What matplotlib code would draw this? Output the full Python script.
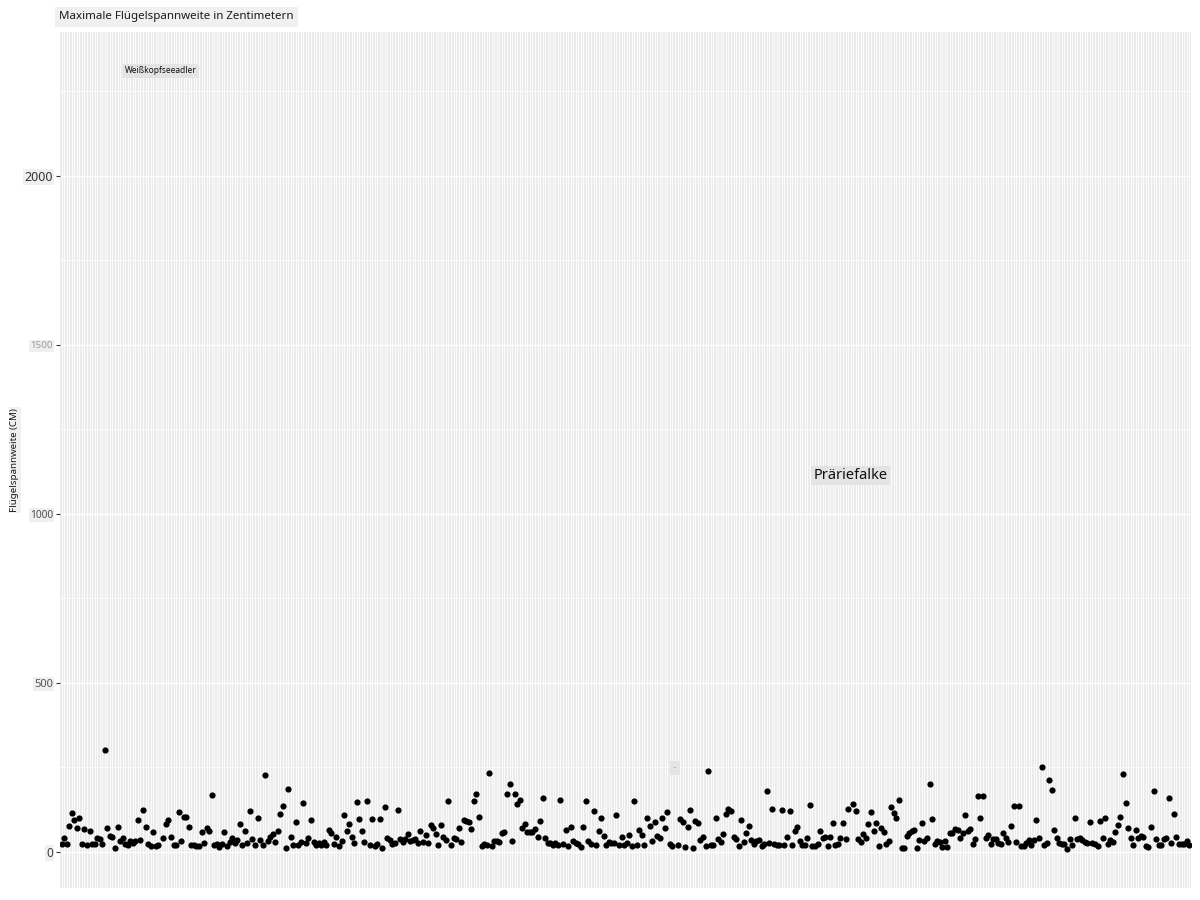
import matplotlib
matplotlib.use('Agg')
import matplotlib.pyplot as plt
import numpy as np

# Maximum wingspan per bird (cm), in x-axis order
wingspan = [
    22, 41, 22, 76, 115, 94, 70, 99, 22, 68, 19, 62, 22, 22, 41, 38, 22, 301, 70, 47,
    44, 12, 73, 31, 40, 22, 20, 32, 27, 32, 94, 35, 123, 73, 22, 17, 58, 17, 20, 2310,
    40, 83, 94, 44, 20, 20, 118, 32, 103, 103, 73, 20, 19, 18, 18, 58, 26, 70, 62, 168,
    20, 22, 14, 22, 58, 18, 30, 41, 26, 34, 83, 20, 61, 26,
    120, 38, 20, 99, 35, 20, 226, 31, 44, 52, 29, 61, 111, 135, 12, 185, 43, 20, 88, 20,
    29, 144, 26, 40, 93, 29, 20, 26, 20, 29, 20, 64, 55, 23, 43, 17, 31, 108, 61, 82,
    43, 26, 147, 96, 61, 29, 150, 20, 96, 17, 23, 96, 11, 132, 40, 34, 23, 26, 123, 37,
    29, 38, 52, 31, 34, 37, 26, 61, 29, 49, 26, 79, 70, 52,
    20, 79, 43, 34, 150, 20, 40, 37, 70, 29, 94, 91, 88, 67, 150, 170, 102, 17, 23, 20,
    232, 17, 31, 31, 29, 55, 58, 170, 200, 31, 170, 141, 153, 70, 82, 58, 58, 58, 67, 43,
    91, 158, 40, 26, 26, 20, 26, 20, 153, 23, 64, 17, 73, 31, 26, 23, 14, 73, 150, 31,
    23, 120, 20, 61, 99, 46, 20, 29, 26, 26, 108, 20, 43, 20,
    26, 49, 17, 150, 20, 64, 49, 20, 99, 76, 31, 88, 46, 40, 99, 70, 117, 23, 17, 248,
    20, 96, 88, 14, 73, 123, 11, 91, 85, 34, 43, 17, 238, 20, 20, 99, 37, 29, 52, 111,
    126, 120, 43, 37, 17, 93, 29, 55, 76, 34, 23, 31, 34, 17, 23, 179, 26, 126, 23, 20,
    20, 123, 20, 43, 120, 20, 61, 73, 31, 20, 20, 40, 138, 17,
    17, 22, 61, 40, 43, 17, 43, 85, 20, 23, 40, 85, 37, 126, 1113, 141, 120, 37, 29, 52,
    40, 82, 117, 61, 85, 17, 70, 58, 23, 31, 132, 114, 99, 153, 11, 11, 46, 55, 61, 64,
    11, 34, 85, 31, 40, 200, 96, 23, 31, 29, 14, 31, 14, 55, 55, 67, 64, 40, 55, 108,
    61, 67, 23, 37, 164, 99, 164, 40, 49, 23, 37, 37, 26, 23, 55,
    40, 29, 76, 135, 29, 135, 17, 17, 26, 34, 20, 34, 93, 40, 250, 20, 26, 212, 182, 64,
    40, 26, 23, 23, 8, 37, 20, 99, 37, 40, 34, 29, 26, 88, 26, 23, 17, 91, 40, 99,
    23, 34, 29, 58, 79, 102, 229, 144, 70, 40, 20, 64, 40, 46, 43, 17, 14, 73, 179, 37,
    20, 20, 37, 40, 158, 26, 111, 43, 23, 23, 23, 31, 20,
]

# Labelled birds (label text, their wingspan value)
label_names = ["Weißkopfseeadler", "Präriefalke", "-"]
label_values = [2310, 1113, 248]
label_sizes = [6, 10.5, 3.5]
label_pads = [1.6, 1.6, 3.2]

y_ticks = [0, 500, 1000, 1500, 2000]
y_tick_labels = ["0", "500", "1000", "1500", "2000"]
y_minor = [250, 750, 1250, 1750, 2250]
tick_sizes = [8.5, 8, 7.3, 7, 9]
tick_colors = ["#3f3f3f", "#555555", "#4d4d4d", "#9a9a9a", "#333333"]

title = "Maximale Flügelspannweite in Zentimetern"
y_label = "Flügelspannweite (CM)"

plt.rcParams['font.family'] = ['Noto Sans', 'DejaVu Sans']

fig = plt.figure(figsize=(12, 9), dpi=100)
ax = fig.add_axes([60 / 1200, 12 / 900, 1130.7 / 1200, 856 / 900])
ax.set_facecolor('#EBEBEB')

n = len(wingspan)
x = np.arange(n)
ax.set_xlim(-0.6, n - 1 + 0.6)
lo, hi = min(wingspan), max(wingspan)
rng = hi - lo
ax.set_ylim(lo - 0.05 * rng, hi + 0.05 * rng)

ax.set_xticks(x)
ax.tick_params(axis='x', length=0, labelbottom=False)
ax.set_yticks(y_ticks)
ax.set_yticks(y_minor, minor=True)
ax.set_yticklabels(y_tick_labels)
ax.tick_params(axis='y', which='major', length=3, width=0.8, color='#333333', pad=2)
ax.tick_params(axis='y', which='minor', length=0)

ax.grid(axis='x', which='major', color='white', linewidth=0.6)
ax.grid(axis='y', which='major', color='white', linewidth=1.0)
ax.grid(axis='y', which='minor', color='white', linewidth=0.5)
ax.set_axisbelow(True)
for s in ax.spines.values():
    s.set_visible(False)

for lbl, fs, c in zip(ax.get_yticklabels(), tick_sizes, tick_colors):
    lbl.set_fontsize(fs)
    lbl.set_color(c)
    lbl.set_bbox(dict(facecolor='#EFEFEF', edgecolor='none', pad=1.0))

ax.scatter(x, wingspan, s=20, color='black', linewidths=0, zorder=3)

for name, v, fs, pd in zip(label_names, label_values, label_sizes, label_pads):
    idx = wingspan.index(v)
    ax.text(idx, v, name, ha='center', va='center', fontsize=fs, color='#111111',
            zorder=5, bbox=dict(facecolor='#E4E4E4', edgecolor='none', pad=pd))

fig.text(59 / 1200, 1 - 17 / 900, title, ha='left', va='center', fontsize=8.3,
         color='#1a1a1a', bbox=dict(facecolor='#F0F0F0', edgecolor='none', pad=3))
fig.text(15 / 1200, 1 - 460 / 900, y_label, ha='center', va='center', rotation=90,
         fontsize=7, color='#1a1a1a',
         bbox=dict(facecolor='#F0F0F0', edgecolor='none', pad=1))

fig.savefig('out.png', dpi=100)
